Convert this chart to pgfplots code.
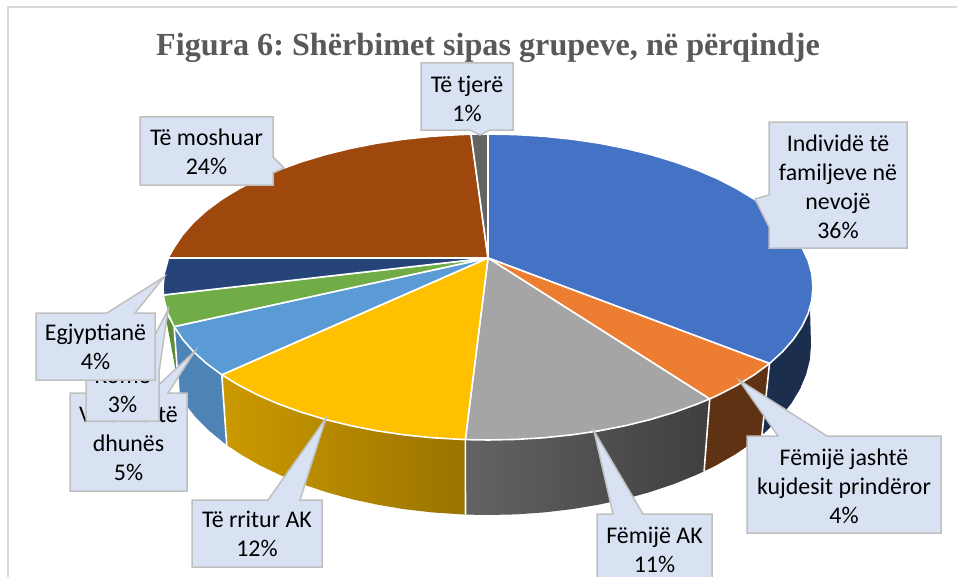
\documentclass[border=0pt]{standalone}
\usepackage{fontspec}
\setmainfont{Carlito}
\newfontfamily\titlefont{Liberation Serif}
\usepackage{pgfplots}
\pgfplotsset{compat=1.18}
\definecolor{cblue}{HTML}{4472C4}
\definecolor{corange}{HTML}{ED7D31}
\definecolor{cgray}{HTML}{A5A5A5}
\definecolor{cyellow}{HTML}{FFC000}
\definecolor{clight}{HTML}{5B9BD5}
\definecolor{cgreen}{HTML}{70AD47}
\definecolor{cnavy}{HTML}{264478}
\definecolor{cbrown}{HTML}{9E480E}
\definecolor{cdark}{HTML}{636363}
\definecolor{boxfill}{HTML}{D9E2F3}
\definecolor{boxline}{HTML}{BFBFBF}
\definecolor{framec}{HTML}{D9D9D9}
\pgfplotsset{
  slice/.style={draw=white,line width=1.6bp,line join=round,fill=#1},
  wall/.style={draw=none,fill=#1},
  seam/.style={draw=white,line width=1.6bp},
  callout/.style={draw=boxline,line width=1.5bp,fill=boxfill,line join=miter},
}
\tikzset{lab/.style={align=center,text=black,inner sep=0pt,
  font=\fontsize{24}{29}\selectfont}}
\frenchspacing
\begin{document}
\begin{tikzpicture}
\useasboundingbox (0,0) rectangle (957bp,577bp);
\begin{axis}[
  at={(0,0)},anchor=south west,
  scale only axis,width=957bp,height=577bp,
  xmin=0,xmax=957,ymin=0,ymax=577,y dir=reverse,
  hide axis,
]
% chart frame
\addplot[framec,line width=1.5bp] coordinates {(8,577) (8,7) (957,7)};

% side walls
\addplot[wall=cgreen!82!black] coordinates {(174.1,326.6) (165,313) (180,394)} --cycle;
\addplot[wall={clight!85!black}] coordinates {(221.8,374.8) (206.5,363.5) (193.5,351.7) (182.6,339.3) (174.1,326.6)
  (179.1,394.7) (184.5,403.1) (195.3,416.8) (208.3,430) (223.4,442.5) (226.7,444.9)} --cycle;
\addplot[draw=none,left color=cyellow!80!black,right color=cyellow!60!black] coordinates {(465.3,439.6) (431.6,437.7) (403.9,434.8) (376.8,430.8) (350.7,425.7) (325.5,419.5) (301.6,412.3) (279.1,404.2) (258.2,395.2) (239,385.3) (221.8,374.8)
  (226.7,444.9) (240.6,454.3) (259.6,465.2) (280.4,475.2) (302.7,484.3) (326.5,492.2) (351.5,499.1) (377.5,504.7) (404.4,509.2) (431.9,512.4) (465.5,514.6)} --cycle;
\addplot[draw=none,left color=cgray!60!black,right color=cgray!38!black] coordinates {(709.7,398.9) (696.9,404.2) (674.4,412.3) (650.5,419.5) (625.3,425.7) (599.2,430.8) (572.1,434.8) (544.4,437.7) (516.3,439.4) (488,440) (465.3,439.6)
  (465.5,514.6) (488,515) (516.2,514.4) (544.1,512.4) (571.6,509.2) (598.5,504.7) (624.5,499.1) (649.5,492.2) (673.3,484.3) (695.6,475.2) (704.1,471.3)} --cycle;
\addplot[wall=corange!40!black] coordinates {(769.5,363.5) (754.2,374.8) (737,385.3) (717.8,395.2) (709.7,398.9)
  (704.1,471.3) (716.4,465.2) (735.4,454.3) (752.6,442.5) (761.9,435.1)} --cycle;
\addplot[wall=cblue!40!black] coordinates {(810,308) (808.1,313.6) (801.9,326.6) (793.4,339.3) (782.5,351.7) (769.5,363.5)
  (761.9,435.1) (767.7,430) (780.7,416.8) (791.5,403.1) (800,389) (806.1,374.5) (809.8,359.8) (811,345)} --cycle;
% seams between the walls
\addplot[seam] coordinates {(221.8,374.8) (226.7,444.9)};
\addplot[seam] coordinates {(465.3,439.6) (465.5,514.6)};
\addplot[seam] coordinates {(709.7,398.9) (704.1,471.3)};
\addplot[seam] coordinates {(769.5,363.5) (761.9,435.1)};
\addplot[seam] coordinates {(174.1,326.6) (179.1,394.7)};

% top face
\addplot[slice=cblue] coordinates {(488,258) (488,134) (516.3,134.6) (544.4,136.3) (572.1,139.2) (599.2,143.2) (625.3,148.3) (650.5,154.5) (674.4,161.7) (696.9,169.8) (717.8,178.8) (737,188.7) (754.2,199.2) (769.5,210.5) (782.5,222.3) (793.4,234.7) (801.9,247.4) (808.1,260.4) (811.8,273.7) (813,287) (811.8,300.3) (808.1,313.6) (801.9,326.6) (793.4,339.3) (782.5,351.7) (769.5,363.5)} --cycle;
\addplot[slice=corange] coordinates {(488,258) (769.5,363.5) (754.2,374.8) (737,385.3) (717.8,395.2) (709.7,398.9)} --cycle;
\addplot[slice=cgray] coordinates {(488,258) (709.7,398.9) (696.9,404.2) (674.4,412.3) (650.5,419.5) (625.3,425.7) (599.2,430.8) (572.1,434.8) (544.4,437.7) (516.3,439.4) (488,440) (465.3,439.6)} --cycle;
\addplot[slice=cyellow] coordinates {(488,258) (465.3,439.6) (431.6,437.7) (403.9,434.8) (376.8,430.8) (350.7,425.7) (325.5,419.5) (301.6,412.3) (279.1,404.2) (258.2,395.2) (239,385.3) (221.8,374.8)} --cycle;
\addplot[slice=clight] coordinates {(488,258) (221.8,374.8) (206.5,363.5) (193.5,351.7) (182.6,339.3) (174.1,326.6)} --cycle;
\addplot[slice=cgreen] coordinates {(488,258) (174.1,326.6) (167.9,313.6) (164.2,300.3) (163.4,295)} --cycle;
\addplot[slice=cnavy] coordinates {(488,258) (163.4,295) (163,287) (164.2,273.7) (167.9,260.4) (168,258)} --cycle;
\addplot[slice=cbrown] coordinates {(488,258) (168,258) (174.1,247.4) (182.6,234.7) (193.5,222.3) (206.5,210.5) (221.8,199.2) (239,188.7) (258.2,178.8) (279.1,169.8) (301.6,161.7) (325.5,154.5) (350.7,148.3) (376.8,143.2) (403.9,139.2) (431.6,136.3) (459.7,134.6) (471,134.2)} --cycle;
\addplot[slice=cdark] coordinates {(488,258) (471,134.2) (488,134)} --cycle;

% title
\node[text=black!65,inner sep=0pt] at (axis cs:488,48)
  {\titlefont\bfseries\fontsize{32.3}{36}\selectfont Figura 6: Shërbimet sipas grupeve, në përqindje};

% callouts, stacked as in the chart
\addplot[callout] coordinates {(70,393) (150,393) (195,351) (168,393) (187,393) (187,491) (70,491)} --cycle;
\node[lab] at (axis cs:128.5,443) {Viktima të\\dhunës\\5\%};
\addplot[callout] coordinates {(86,354) (145,354) (168,310) (159,372) (159,421) (86,421)} --cycle;
\node[lab] at (axis cs:122.5,390) {Romë\\3\%};
\addplot[callout] coordinates {(36,313) (107,313) (164,277) (135,313) (155,313) (155,380) (36,380)} --cycle;
\node[lab] at (axis cs:95.5,347) {Egjyptianë\\4\%};
\addplot[callout] coordinates {(192,500) (268,500) (326,418) (300,500) (322,500) (322,567) (192,567)} --cycle;
\node[lab] at (axis cs:257,534) {Të rritur AK\\12\%};
\addplot[callout] coordinates {(597,514) (613,514) (594,431) (643,514) (712,514) (712,590) (597,590)} --cycle;
\node[lab] at (axis cs:654.5,549.5) {Fëmijë AK\\11\%};
\addplot[callout] coordinates {(747,436) (778,436) (739,380) (827,436) (941,436) (941,533) (747,533)} --cycle;
\node[lab] at (axis cs:844,486.5) {Fëmijë jashtë\\kujdesit prindëror\\4\%};
\addplot[callout] coordinates {(140,117) (273,117) (273,157) (284,168) (273,173) (273,185) (140,185)} --cycle;
\node[lab] at (axis cs:206.5,152) {Të moshuar\\24\%};
\addplot[callout] coordinates {(421,63) (513,63) (513,130) (490,130) (480,135) (470,130) (421,130)} --cycle;
\node[lab] at (axis cs:467,98.5) {Të tjerë\\1\%};
\addplot[callout] coordinates {(769,122) (907,122) (907,248) (769,248) (769,227) (755,199) (769,195)} --cycle;
\node[lab] at (axis cs:838,186.5) {Individë të\\familjeve në\\nevojë\\36\%};
\end{axis}
\end{tikzpicture}
\end{document}
